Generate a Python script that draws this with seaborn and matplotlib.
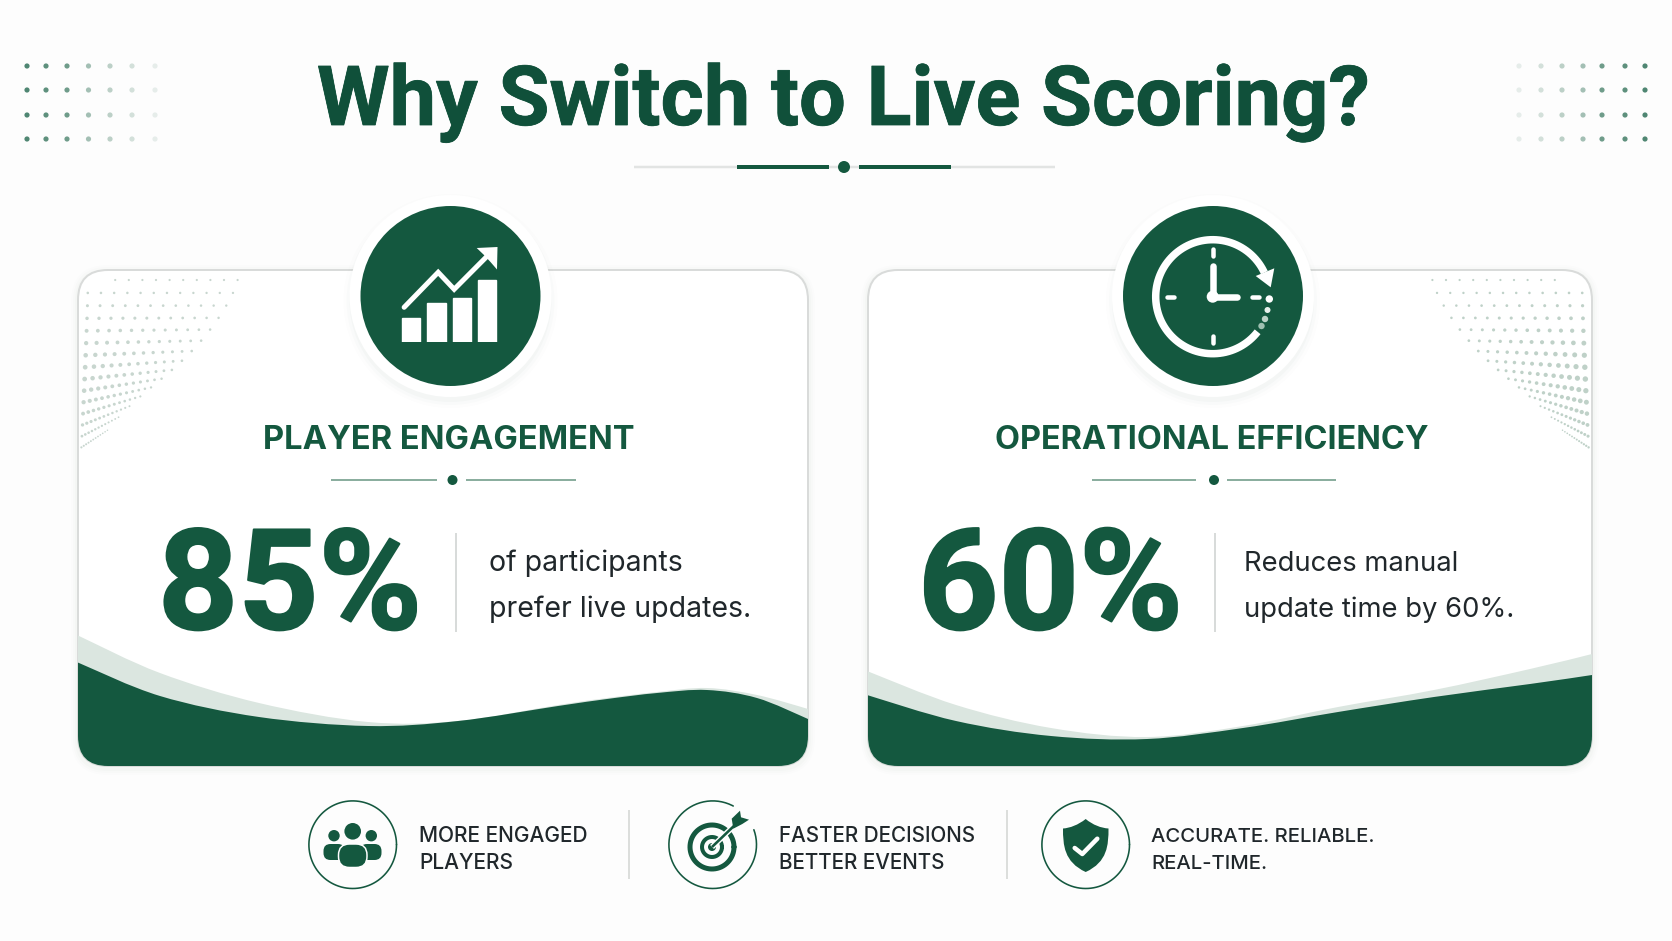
import numpy as np
import matplotlib
matplotlib.use("Agg")
import matplotlib.pyplot as plt
import matplotlib.patheffects as pe
import seaborn as sns
from matplotlib.path import Path
from matplotlib.patches import PathPatch, FancyBboxPatch, Circle, Polygon

# ---- content ----
title_text = "Why Switch to Live Scoring?"
card_titles = ["PLAYER ENGAGEMENT", "OPERATIONAL EFFICIENCY"]
percent_values = [85, 60]
card_lines = [["of participants", "prefer live updates."],
              ["Reduces manual", "update time by 60%."]]
footer_lines = [["MORE ENGAGED", "PLAYERS"],
                ["FASTER DECISIONS", "BETTER EVENTS"],
                ["ACCURATE. RELIABLE.", "REAL-TIME."]]
# mini chart inside the first badge
icon_categories = ["a", "b", "c", "d"]
icon_bar_values = [24, 39, 44, 62]
icon_trend_x = [-0.27, 1.07, 1.70, 3.15]
icon_trend_y = [35, 70, 53, 90]
# wave outlines (x, top y) in picture pixels
wave1_x = [70, 79, 160, 259, 368, 458, 558, 607, 657, 707, 757, 808, 818]
wave1_dark = [659, 663, 696, 717, 726, 721, 706, 699, 693, 690, 698, 719, 724]
wave1_light = [632, 636, 673, 703, 722, 721, 705, 698, 692, 688, 695, 709, 713]
wave2_x = [858, 867, 956, 1051, 1147, 1243, 1338, 1434, 1530, 1592, 1602]
wave2_dark = [692, 695, 721, 736, 739, 728, 712, 697, 684, 675, 673]
wave2_light = [667, 671, 705, 728, 737, 726, 707, 690, 669, 654, 651]

GREEN = "#14583f"
TITLE_GREEN = "#10503a"
LIGHT = "#dbe6e0"
INK = "#20272b"
BG = "#fdfdfd"

sns.set_theme(style="white")
plt.rcParams["font.family"] = ["Inter", "DejaVu Sans"]

fig = plt.figure(figsize=(16.72, 9.41), dpi=100, facecolor=BG)
ax = fig.add_axes([0, 0, 1, 1])
ax.set_xlim(0, 1672)
ax.set_ylim(941, 0)
ax.axis("off")
LW = 72 / 100  # one pixel in points


def smooth(xs, ys):
    pts = np.column_stack([xs, ys]).astype(float)
    verts, codes = [pts[0]], [Path.MOVETO]
    for i in range(len(pts) - 1):
        p0 = pts[max(i - 1, 0)]
        p1, p2 = pts[i], pts[i + 1]
        p3 = pts[min(i + 2, len(pts) - 1)]
        verts += [p1 + (p2 - p0) / 6, p2 - (p3 - p1) / 6, p2]
        codes += [Path.CURVE4] * 3
    return verts, codes


def fit(txt, width):
    r = fig.canvas.get_renderer()
    txt.set_fontsize(txt.get_fontsize() * width / txt.get_window_extent(r).width)
    return txt.get_fontsize()


def heavier(txt, px):
    txt.set_path_effects([pe.withStroke(linewidth=px * LW, foreground=txt.get_color())])


def line(xs, ys, color=GREEN, px=2, z=6, cap="round", **kw):
    ax.plot(xs, ys, color=color, lw=px * LW, solid_capstyle=cap, zorder=z, **kw)


def disc(x, y, r, color=GREEN, z=7, **kw):
    p = Circle((x, y), r, facecolor=color, edgecolor="none", zorder=z, **kw)
    ax.add_patch(p)
    return p


def ring(x, y, r, px=1.6, a0=0, a1=360, color=GREEN, z=7):
    a = np.radians(np.linspace(a0, a1, 200))
    line(x + r * np.cos(a), y + r * np.sin(a), color=color, px=px, z=z)


def rbox(x0, y0, x1, y1, r, z=7, color=GREEN, **kw):
    p = FancyBboxPatch((x0, y0), x1 - x0, y1 - y0,
                       boxstyle=f"round,pad=0,rounding_size={r}",
                       facecolor=color, edgecolor="none", zorder=z, **kw)
    ax.add_patch(p)
    return p


# ---- title ----
t = ax.text(317, 125, title_text, fontweight="bold", color=TITLE_GREEN, family=["Roboto", "DejaVu Sans"],
            fontsize=60, ha="left", va="baseline", zorder=6)
fit(t, 1053)
heavier(t, 0.8)
line([634, 1055], [167, 167], color="#e2e4e3", px=2.5, cap="butt")
line([737, 829], [167, 167], color=GREEN, px=4, cap="butt", z=7)
line([859, 951], [167, 167], color=GREEN, px=4, cap="butt", z=7)
disc(844, 167, 6)

# ---- dot grids in the top corners ----
grid_x_left = [27, 46, 67, 88.5, 110, 132, 155]
grid_x_right = [1519, 1541, 1562, 1583, 1602, 1625, 1645]
grid_y = [66, 90, 115, 139]
grid_cols = ["#4f8672", "#5e907d", "#6f9c8a", "#a3bfb4", "#bcd0c7", "#d3e0da", "#e6edea"]
for xs, cols in ((grid_x_left, grid_cols), (grid_x_right, grid_cols[::-1])):
    gx = np.repeat(xs, len(grid_y))
    gy = np.tile(grid_y, len(xs))
    hue = np.repeat(np.arange(len(xs)), len(grid_y))
    sns.scatterplot(x=gx, y=gy, hue=hue, palette=cols, s=14, linewidth=0,
                    legend=False, ax=ax, zorder=3)

# ---- cards ----
cards = [(78, 270, 808, 766), (868, 270, 1592, 766)]
clips = []
for (x0, y0, x1, y1) in cards:
    for grow, alpha in ((7, .012), (5, .02), (3, .03)):
        rbox(x0 - grow, y0 - grow + 2, x1 + grow, y1 + grow + 2, 30 + grow, z=1,
             color="#7a9a8c", alpha=alpha)
    p = FancyBboxPatch((x0, y0), x1 - x0, y1 - y0,
                       boxstyle="round,pad=0,rounding_size=30",
                       facecolor="white", edgecolor="#d9dbda", lw=2 * LW, zorder=2)
    ax.add_patch(p)
    clips.append(p)


# ---- halftones ----
def halftone(clip, mirror, color, gain):
    hx, hy, hs = [], [], []
    for r in range(15):
        y0 = 280 + 13 * r - 0.07 * r * r
        tt = min((y0 - 280) / 195, 1)
        for c in range(12):
            if r == 0 and c < 2:
                continue
            xt = 88 + 13.6 * c
            x = 80 + (xt - 80) * (1 - tt ** 1.3)
            y = y0 - 1.1 * (x - 80) * tt ** 3.5
            d = (2.2 + gain * np.sin(np.pi * tt ** 1.2) * (1 - c / 14)) * (1 - 0.65 * tt ** 3)
            hx.append(1670 - x if mirror else x)
            hy.append(y)
            hs.append((d * LW) ** 2)
    sc = sns.scatterplot(x=hx, y=hy, size=hs, sizes=(min(hs), max(hs)), color=color,
                         linewidth=0, legend=False, ax=ax, zorder=2.5)
    sc.collections[-1].set_clip_path(clip)


halftone(clips[0], False, "#c8d6cf", 3.0)
halftone(clips[1], True, "#bfd1c8", 3.8)

# ---- waves ----
for clip, wx, dark, light in ((clips[0], wave1_x, wave1_dark, wave1_light),
                              (clips[1], wave2_x, wave2_dark, wave2_light)):
    for ys, col, z in ((light, LIGHT, 3), (dark, GREEN, 3.1)):
        v, c = smooth(wx, ys)
        v += [(wx[-1], 780), (wx[0], 780), (wx[0], ys[0])]
        c += [Path.LINETO, Path.LINETO, Path.LINETO]
        w = PathPatch(Path(v, c), facecolor=col, edgecolor="none", zorder=z)
        ax.add_patch(w)
        w.set_clip_path(clip)

# ---- card texts ----
title_boxes = [(263, 372), (995, 434)]
big_boxes = [(158, 264), (918, 265)]
sep_x = [455.5, 1214.5]
rule = [((331, 437), (466, 576), 452.5), ((1092, 1196), (1227, 1336), 1214)]
copy_x = [489, 1244]
copy_w = [261, 270]
for i in range(2):
    t = ax.text(title_boxes[i][0], 449, card_titles[i], fontweight="bold", color=GREEN,
                fontsize=24, ha="left", va="baseline", zorder=6)
    fit(t, title_boxes[i][1])
    line(rule[i][0], [480, 480], color="#6f9a88", px=1.6, cap="butt")
    line(rule[i][1], [480, 480], color="#6f9a88", px=1.6, cap="butt")
    disc(rule[i][2], 480, 5)
    t = ax.text(big_boxes[i][0], 629, f"{percent_values[i]}%", fontweight="bold", color=GREEN,
                family=["Roboto", "DejaVu Sans"],
                fontsize=100, ha="left", va="baseline", zorder=6)
    fit(t, big_boxes[i][1])
    heavier(t, 2)
    line([sep_x[i], sep_x[i]], [533, 632], color="#cfd3d1", px=1.6, cap="butt")
    t2 = ax.text(copy_x[i], 617, card_lines[i][1], color=INK, fontsize=20,
                 ha="left", va="baseline", zorder=6)
    fs = fit(t2, copy_w[i])
    ax.text(copy_x[i], 571, card_lines[i][0], color=INK, fontsize=fs,
            ha="left", va="baseline", zorder=6)

# ---- badges ----
for cx in (450.5, 1213):
    for grow, alpha in ((10, .012), (7, .02), (4, .03)):
        disc(cx, 301, 100 + grow - 3, color="#5f7f71", z=4, alpha=alpha)
    disc(cx, 296, 101, color="white", z=4.5)
    disc(cx, 296, 90, color=GREEN, z=5)

# chart icon: white bars and a trend line on their own small axes
W, H = 1672, 941
inset = fig.add_axes([398.3 / W, (H - 342.3) / H, 101.6 / W, 95 / H])
inset.patch.set_alpha(0)
inset.axis("off")
sns.barplot(x=icon_categories, y=icon_bar_values, color="white", width=0.72,
            saturation=1, ax=inset)
sns.lineplot(x=icon_trend_x, y=icon_trend_y, sort=False, color="white", lw=5 * LW,
             estimator=None, ax=inset, solid_capstyle="round", solid_joinstyle="miter")
inset.set_xlim(-0.5, 3.5)
inset.set_ylim(0, 95)
ax.add_patch(Polygon([(476.7, 248), (497.5, 247), (497, 269.5), (490.5, 262), (484, 255)],
                     closed=True, facecolor="white", edgecolor="none", zorder=8))

# clock icon
C = (1212.7, 296.7)
a = np.radians(np.linspace(38, 335, 200))
line(C[0] + 57 * np.cos(a), C[1] + 57 * np.sin(a), color="white", px=7.5, cap="butt", z=7)
ax.add_patch(Polygon([(1274.3, 268.3), (1270.7, 287.3), (1255.7, 276)], closed=True,
                     facecolor="white", edgecolor="none", zorder=8))
for xs, ys in (([C[0], C[0]], [249, 256]), ([C[0], C[0]], [336, 343]),
               ([1167, 1174], [C[1], C[1]]), ([1252, 1259], [C[1], C[1]])):
    line(xs, ys, color="white", px=4.5, z=7)
line([C[0], C[0]], [C[1], 266], color="white", px=6.5, z=7)
line([C[0], 1237], [C[1], C[1]], color="white", px=6.5, z=7)
disc(C[0], C[1], 6, color="white")
disc(1269.3, 299, 3.7, color="white")
disc(1267.5, 310, 3, color="#e8f0ec")
disc(1265, 319, 3.2, color="#bcd3c8")
disc(1261.5, 326, 3.2, color="#9fc0b1")

# ---- footer ----
ring(352.7, 844.7, 43.8)
gap_start, gap_end = -62, -20
ring(712.7, 844.7, 43.8, a0=gap_end, a1=360 + gap_start)
ring(1085.7, 844.7, 43.8)

# people
disc(352.7, 831.3, 8.3)
disc(334, 835.7, 5.7)
disc(371.3, 835.7, 5.7)
rbox(323.5, 844, 345, 860, 7)
rbox(360, 844, 381.5, 860, 7)
b = rbox(338.5, 844, 367, 867.5, 11)
b.set_edgecolor("white")
b.set_linewidth(1.5 * LW)

# target
ring(712, 847, 22, px=5)
ring(712, 847, 10, px=4)
disc(712, 847, 4)
line([712, 737], [847, 823], color="white", px=5.5, cap="butt", z=7.2)
line([712, 737], [847, 823], color=GREEN, px=2.6, cap="butt", z=7.3)
ax.add_patch(Polygon([(731.7, 818.7), (740, 810.7), (741, 817.3), (749, 819.7),
                      (742.3, 824), (733.3, 828.7)], closed=True,
                     facecolor=GREEN, edgecolor="none", zorder=7.4))

# shield
sv = [(1085.7, 819), (1078, 825), (1070, 828), (1063, 828.5),
      (1063, 845), (1064, 862), (1085.7, 872),
      (1107.5, 862), (1108.5, 845), (1108.5, 828.5),
      (1101, 828), (1093, 825), (1085.7, 819)]
sc = [Path.MOVETO] + [Path.CURVE4] * 12
ax.add_patch(PathPatch(Path(sv, sc), facecolor=GREEN, edgecolor="none", zorder=7))
line([1074.7, 1082.3, 1097.3], [848, 854, 838.7], color="white", px=4.5, z=8)

line([629, 629], [810, 879], color="#d4d7d5", px=1.6, cap="butt")
line([1006.5, 1006.5], [810, 879], color="#d4d7d5", px=1.6, cap="butt")
foot_x = [419, 779, 1151]
foot_w = [169, 196, 223]
for i in range(3):
    t = ax.text(foot_x[i], 842, footer_lines[i][0], color=INK, fontsize=15, fontweight="medium",
                ha="left", va="baseline", zorder=6)
    fs = fit(t, foot_w[i])
    ax.text(foot_x[i], 869, footer_lines[i][1], color=INK, fontsize=fs, fontweight="medium",
            ha="left", va="baseline", zorder=6)

fig.savefig("out.png", dpi=100, facecolor=BG)
